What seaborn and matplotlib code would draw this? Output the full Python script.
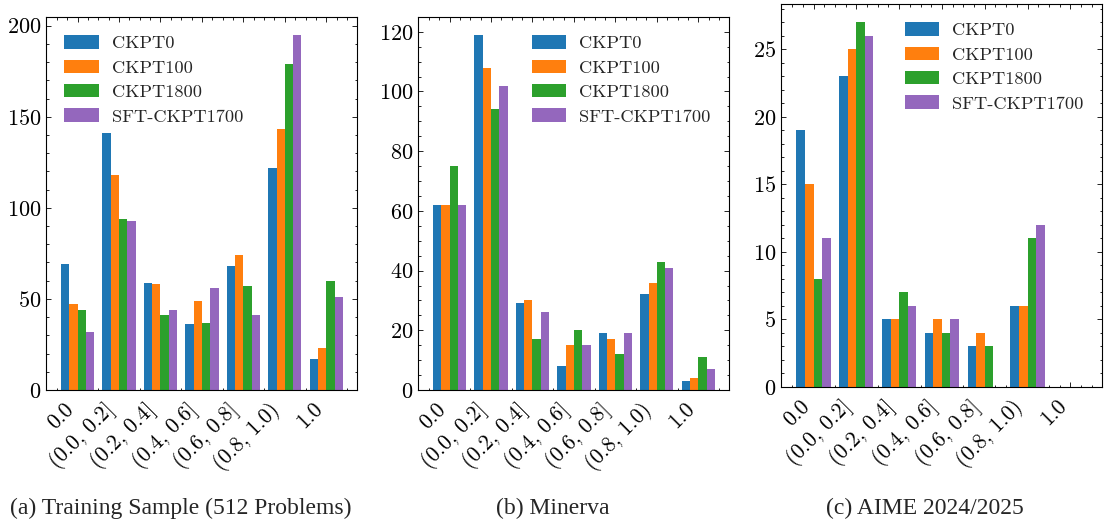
import numpy as np
import pandas as pd
import matplotlib
matplotlib.use("Agg")
import matplotlib.pyplot as plt
from matplotlib.ticker import AutoMinorLocator, MultipleLocator
import seaborn as sns

# accuracy bins and checkpoints
bins = ["0.0", "(0.0, 0.2]", "(0.2, 0.4]", "(0.4, 0.6]", "(0.6, 0.8]", "(0.8, 1.0)", "1.0"]
models = ["CKPT0", "CKPT100", "CKPT1800", "SFT-CKPT1700"]
colors = ["#1f77b4", "#ff7f0e", "#2ca02c", "#9467bd"]

# (a) training sample, 512 problems
train_ckpt0 = [69, 141, 59, 36, 68, 122, 17]
train_ckpt100 = [47, 118, 58, 49, 74, 143, 23]
train_ckpt1800 = [44, 94, 41, 37, 57, 179, 60]
train_sft1700 = [32, 93, 44, 56, 41, 195, 51]

# (b) minerva
minerva_ckpt0 = [62, 119, 29, 8, 19, 32, 3]
minerva_ckpt100 = [62, 108, 30, 15, 17, 36, 4]
minerva_ckpt1800 = [75, 94, 17, 20, 12, 43, 11]
minerva_sft1700 = [62, 102, 26, 15, 19, 41, 7]

# (c) aime 2024/2025
aime_ckpt0 = [19, 23, 5, 4, 3, 6, 0]
aime_ckpt100 = [15, 25, 5, 5, 4, 6, 0]
aime_ckpt1800 = [8, 27, 7, 4, 3, 11, 0]
aime_sft1700 = [11, 26, 6, 5, 0, 12, 0]

captions = ["(a) Training Sample (512 Problems)", "(b) Minerva", "(c) AIME 2024/2025"]

sns.set_style("ticks")
plt.rcParams.update({
    "font.family": ["cmr10", "DejaVu Serif"],
    "axes.formatter.use_mathtext": True,
    "mathtext.fontset": "cm",
    "xtick.direction": "in",
    "ytick.direction": "in",
    "xtick.top": True,
    "ytick.right": True,
    "xtick.major.size": 3.5,
    "ytick.major.size": 3.5,
    "xtick.minor.size": 1.8,
    "ytick.minor.size": 1.8,
    "xtick.major.width": 0.6,
    "ytick.major.width": 0.6,
    "xtick.minor.width": 0.6,
    "ytick.minor.width": 0.6,
    "xtick.major.pad": 6.5,
    "axes.linewidth": 0.8,
    "axes.edgecolor": "black",
    "xtick.color": "black",
    "ytick.color": "black",
    "xtick.labelsize": 15.5,
    "ytick.labelsize": 16,
})


def make_frame(series):
    rows = []
    for name, vals in zip(models, series):
        for b, v in zip(bins, vals):
            rows.append({"bin": b, "count": v, "model": name})
    return pd.DataFrame(rows)


panels = [
    [train_ckpt0, train_ckpt100, train_ckpt1800, train_sft1700],
    [minerva_ckpt0, minerva_ckpt100, minerva_ckpt1800, minerva_sft1700],
    [aime_ckpt0, aime_ckpt100, aime_ckpt1800, aime_sft1700],
]
positions = [
    [46, 17, 311, 373],
    [418, 17, 311, 373],
    [781, 4, 321, 383],
]
major_step = [50, 20, 5]
legend_loc = ["upper left", "upper right", "upper right"]
caption_x = [181, 553, 925]

W, H = 1105, 520
fig = plt.figure(figsize=(W / 100, H / 100), dpi=100)

for i in range(3):
    l, t, w, h = positions[i]
    ax = fig.add_axes([l / W, 1 - (t + h) / H, w / W, h / H])
    data = make_frame(panels[i])
    sns.barplot(data=data, x="bin", y="count", hue="model", palette=colors,
                hue_order=models, order=bins, width=0.8, saturation=1,
                linewidth=0, ax=ax)
    ax.set_xlim(-0.76, 6.74)
    ax.set_xlabel("")
    ax.set_ylabel("")
    ax.yaxis.set_major_locator(MultipleLocator(major_step[i]))
    ax.xaxis.set_minor_locator(AutoMinorLocator(4))
    ax.yaxis.set_minor_locator(AutoMinorLocator())
    ax.set_xticks(range(len(bins)))
    ax.set_xticklabels(bins, rotation=45, ha="right", rotation_mode="default")
    for s in ax.spines.values():
        s.set_visible(True)
    ax.legend(loc=legend_loc[i], frameon=False, fontsize=13.2,
              handlelength=1.9, handleheight=0.75, handletextpad=0.7,
              labelspacing=0.45, borderaxespad=0.6)
    fig.text(caption_x[i] / W, 1 - 508 / H, captions[i], ha="center", va="center",
             fontsize=17, family=["Liberation Serif"])

plt.savefig("out.png", dpi=100)
